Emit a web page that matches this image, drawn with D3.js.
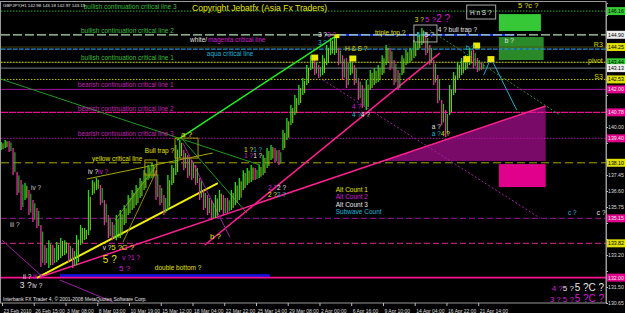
<!DOCTYPE html>
<html><head><meta charset="utf-8">
<script src="https://cdn.jsdelivr.net/npm/d3@7"></script>
<style>body{margin:0;background:#000;}svg{display:block;}text{font-family:"Liberation Sans",Arial,sans-serif;}</style>
</head><body><svg id="c" width="625" height="313"></svg>
<script>
// ---------- DATA ----------
// H1 GBPJPY price envelope, one entry per 8-bar slot (high / low)
const barHigh=[139.20,139.31,139.26,138.88,137.61,137.18,137.02,136.65,136.12,135.70,134.79,133.73,133.99,133.73,133.89,134.10,133.99,133.84,133.57,134.26,134.79,134.63,136.65,137.18,137.29,136.92,136.12,135.32,134.95,135.32,135.59,135.85,136.39,136.65,136.92,137.29,137.71,137.98,138.09,137.71,136.92,136.39,137.45,137.98,139.04,139.31,138.78,138.51,138.25,137.98,137.29,136.65,136.39,136.12,136.39,136.65,136.39,136.23,136.65,137.08,137.29,137.71,137.82,137.98,137.82,137.98,138.51,138.88,139.04,138.88,138.78,139.84,140.48,141.17,141.70,142.23,142.60,143.29,143.82,143.56,143.29,143.82,144.36,144.73,144.94,144.20,143.82,143.67,143.56,143.29,142.60,142.23,142.50,143.03,143.13,143.29,143.82,144.36,144.20,143.56,143.03,143.82,144.09,144.20,144.62,145.05,145.26,144.89,144.36,143.56,142.76,141.43,140.90,142.23,142.92,143.45,143.67,143.82,144.20,144.09,143.67,143.45];
const barLow=[138.78,138.88,138.67,137.45,136.39,135.59,136.12,135.32,134.95,134.63,132.56,132.67,132.51,132.67,132.83,133.04,133.20,132.83,132.51,132.67,133.73,133.99,134.26,136.39,136.65,135.85,134.79,134.10,133.99,133.99,134.10,134.79,135.32,135.59,135.85,136.23,136.65,137.18,137.29,136.12,135.85,135.32,135.59,136.92,137.45,138.35,137.71,137.29,137.18,136.92,136.12,135.59,135.32,135.06,135.17,135.48,135.32,135.43,135.59,135.85,136.12,136.65,136.92,137.08,137.18,137.29,137.45,137.82,138.25,138.09,137.98,138.78,139.31,140.11,140.64,141.17,141.70,142.23,143.03,142.76,142.60,142.76,143.29,143.82,143.82,143.29,142.50,142.07,142.76,142.23,141.43,141.01,140.90,141.97,142.23,142.39,142.76,143.29,143.03,142.23,141.97,142.76,143.29,143.45,143.67,144.09,144.36,143.82,143.29,142.23,141.27,140.11,139.47,140.64,141.70,142.50,142.76,143.03,143.29,143.13,142.92,143.03];
const timeTickSlots=[0,8,16,24,32,40,48,56,64,72,80,88,96,104,112,120];
const timeTickLabels=["23 Feb 2010","26 Feb 15:00","3 Mar 08:00","8 Mar 03:00","10 Mar 19:00","15 Mar 12:00","18 Mar 04:00","22 Mar 22:00","25 Mar 14:00","29 Mar 08:00","2 Apr 00:00","6 Apr 16:00","9 Apr 10:00","14 Apr 04:00","16 Apr 22:00","21 Apr 14:00"];
const priceTickValues=[130.65,131.50,132.35,133.20,134.05,134.90,135.75,136.60,137.45,138.30,139.15,140.00,140.85,141.70,142.55,143.40,144.25,145.10,145.95];
// horizontal critical lines (price levels) and their names
const levelPrices=[146.16,144.90,144.25,144.14,143.44,143.44,143.13,142.53,142.00,140.78,139.40,138.10,135.15,133.82,132.00];
const levelNames=["bullish continuation critical line 3","bullish continuation critical line 2","","aqua critical line","","bullish continuation critical line 1","","","bearish continuation critical line 1","bearish continuation critical line 2","bearish continuation critical line 3","yellow critical line","","",""];
// trend lines: [slot1, price1, slot2, price2]
const trendLines=[
 [44.1,139.31,84.6,144.89],[-0.3,142.55,65.0,137.98],[45.6,139.31,61.7,135.43],[107.8,145.15,140.6,140.64],
 [8.8,131.98,54.4,137.02],[21.4,137.24,53.1,138.62],[9.6,132.03,137.0,141.12],[51.1,133.73,110.3,143.93],
 [45.6,139.15,57.4,134.16],[80.9,142.50,135.5,135.17],[0,133.99,10.3,132.03],[14.6,131.87,28.0,130.70],
 [28.5,135.06,39.0,137.98],[30.5,133.89,39.0,137.71],[121.4,142.76,123.2,143.67],[123.2,143.67,129.7,140.90]];
// zones: [slot1, priceTop, slot2, priceBottom]
const zones=[[125.2,146.00,135.8,145.10],[125.2,144.78,136.5,143.56],[125.2,138.03,137.0,136.81],[14.6,132.19,67.5,132.03],[85.1,144.94,129.2,144.84]];
const boxes=[[103.8,145.42,109.6,144.52],[117.1,146.48,124.4,145.74],[43.6,139.41,49.4,138.35],[36.0,138.25,39.0,137.45]];
const wedge=[[96.0,138.19],[137.0,141.12],[137.0,138.19]];
const markers=[[78.8,143.69],[88.4,143.64],[117.1,143.61],[119.6,144.33],[123.2,143.61],[84.4,144.83]];
const notes=[
 ["iv ?",7.3,136.65,"G"],["iii ?",2.0,134.69,"G"],["ii ?",5.3,131.92,"W"],["iii ?",7.8,131.92,"M"],
 ["3 ?",4.5,131.45,"W",8.5],["iv ?",7.6,131.45,"W"],["iv ?",21.7,137.50,"W"],["iv ?",24.2,137.50,"M"],
 ["v ?",25.4,133.46,"W"],["5 ?",27.5,133.46,"Y",8],["C ?",30.2,133.46,"Y",8],["5 ?",25.4,132.80,"Y",10],
 ["v ?1 ?",30.3,132.93,"M"],["5 ?",29.5,132.35,"M",8],["double bottom ?",38.5,132.42,"Y"],
 ["Bull trap ?",36.0,138.62,"Y"],["a ?",45.1,139.47,"Y",8],["b ?",52.4,134.05,"Y",8],
 ["1 ?",61.0,138.67,"Y"],["1 ?",63.3,138.67,"C"],["1 ?",61.0,138.35,"M"],["1 ?",63.3,138.35,"W"],
 ["2 ?",67.0,136.65,"M"],["2 ?",69.3,136.65,"W"],["2 ?",67.0,136.28,"Y"],["2 ?",69.3,136.28,"C"],
 ["Alt Count 1",84.1,136.55,"Y"],["Alt Count 2",84.1,136.17,"M"],["Alt Count 3",84.1,135.75,"W"],["Subwave Count",84.1,135.38,"C"],
 ["4 ?",88.2,140.96,"M"],["4 ?",88.2,140.53,"C"],["4 ?",90.4,140.53,"W"],
 ["3 ?",79.6,144.78,"W"],["3 ?",81.9,144.78,"M"],["3 ?",79.6,144.36,"C"],["H & S ?",86.4,144.04,"Y"],
 ["triple top ?",94.0,144.89,"Y"],["3 ?",104.0,145.58,"Y"],["5 ?",106.6,145.58,"M",8],["2 ?",109.4,145.58,"M",10],
 ["5 ?",104.5,144.78,"C"],["5 ?",106.5,144.78,"W"],["4 ? bull trap ?",109.8,145.05,"W"],["H n S ?",117.9,145.95,"W"],
 ["5 ?c ?",130.0,146.32,"Y",7.5],["b ?",116.9,144.09,"C"],["b ?",126.7,144.46,"W"],
 ["a ?",108.3,139.89,"W"],["a ?",108.3,139.52,"C"],["4 ?",110.6,139.52,"Y"],
 ["c ?",142.6,135.32,"C"],["c ?",149.9,135.32,"W"],
 ["white/",47.4,144.54,"W"],["magenta critical line",51.9,144.54,"M"],
 ["4 ?",138.5,131.30,"M",8],["5 ?",141.3,131.30,"W",8],["5 ?C ?",144.3,131.30,"W",10],
 ["3 ?",138.0,130.72,"M",8],["5 ?",141.3,130.72,"M",8],["5 ?C ?",144.3,130.72,"M",10]];
const pivotNames=["R3","pivot","S3"];
const pivotPrices=[144.25,143.40,142.50];

// ---------- STYLE / LAYOUT ----------
const col={Y:"#e0e000",W:"#e6e6e6",M:"#d41ed4",C:"#22b4d8",G:"#c8c8c8"};
const levelStyle=[
 {c:"#2fb02f",d:"1.5,1.5",w:1,tag:"#3c3",tc:"#000",ls:20.6,dy:-2,lc:"#3cbf3c"},
 {c:"#b4e0b4",d:"9,3",w:1.2,tag:"#eee",tc:"#000",ls:19.9,dy:-2,lc:"#3cbf3c"},
 {c:"#50500a",d:null,w:0.8,tag:"#dede00",tc:"#000"},
 {c:"#1c9cb0",d:"4,2",w:1.3,tag:null,ls:51.6,dy:6.5,lc:"#22b4d8"},
 {c:"#5a5a14",d:null,w:0.8,tag:null},
 {c:"#a8c020",d:"1.5,1.5",w:1,tag:"#3c3",tc:"#000",ls:19.9,dy:-2.5,lc:"#3cbf3c"},
 {c:"#708090",d:null,w:1,tag:"#eee",tc:"#000"},
 {c:"#c8c800",d:"1.5,1.5",w:1,tag:"#dede00",tc:"#000"},
 {c:"#a010a0",d:null,w:1,tag:"#e0008c",tc:"#eee",ls:19.1,dy:-2,lc:"#c020b0"},
 {c:"#e8108c",d:"7,1",w:1.2,tag:"#e0008c",tc:"#eee",ls:19.1,dy:-1.5,lc:"#c020b0"},
 {c:"#b010a0",d:"1.5,1.5",w:1,tag:"#e0008c",tc:"#eee",ls:19.1,dy:-2,lc:"#c020b0"},
 {c:"#a8a800",d:"8,4",w:1,tag:"#dede00",tc:"#000",ls:22.7,dy:-2,lc:"#e0e000"},
 {c:"#a010a0",d:"6,3",w:1,tag:"#e0008c",tc:"#eee"},
 {c:"#d82890",d:"6,3",w:1,tag:"#dede00",tc:"#000"},
 {c:"#ff1090",d:null,w:1.6,tag:"#e0008c",tc:"#eee"}];
const trendStyle=[
 ["#22ee22",1.5],["#1f9a1f",1],["#1f9a1f",1],["#2a8a2a",1,"2,2"],
 ["#f0f000",2],["#a8a800",1],["#ff2090",1.5],["#ff2090",1.5],
 ["#a020a0",1],["#a020a0",1,"2,2"],["#a020a0",1],["#a020a0",1],
 ["#8a8a00",1],["#8a8a00",1],["#1fa8c8",1],["#1fa8c8",1]];
const zoneFill=["#36c836","#2a8a2a","#e0008c","#1010d0","#1a2ee0"];
const boxStroke=["#a8a8a8","#a8a8a8","#a0a000","#a0a000"];

const svg=d3.select("#c");
svg.append("rect").attr("width",625).attr("height",313).attr("fill","#000");
const x=d3.scaleLinear().domain([0,152.2]).range([2,606]);
const y=d3.scaleLinear().domain([130.65,146.59]).range([303,3]);
svg.append("defs").append("clipPath").attr("id","plot").append("rect").attr("x",1).attr("y",2).attr("width",605).attr("height",301);
const g=svg.append("g").attr("clip-path","url(#plot)");

g.selectAll(".zone").data(zones).join("rect")
 .attr("x",d=>x(d[0])).attr("y",d=>y(d[1])).attr("width",d=>x(d[2])-x(d[0])).attr("height",d=>y(d[3])-y(d[1]))
 .attr("fill",(d,i)=>zoneFill[i]);
g.append("path").datum(wedge).attr("d",d3.line().x(d=>x(d[0])).y(d=>y(d[1]))).attr("fill","#7a0a68");

g.selectAll(".lvl").data(levelPrices).join("line")
 .attr("x1",1).attr("x2",606).attr("y1",d=>y(d)).attr("y2",d=>y(d))
 .attr("stroke",(d,i)=>levelStyle[i].c).attr("stroke-width",(d,i)=>levelStyle[i].w)
 .attr("stroke-dasharray",(d,i)=>levelStyle[i].d);
g.append("line").attr("x1",4).attr("x2",606).attr("y1",y(levelPrices[3])).attr("y2",y(levelPrices[3]))
 .attr("stroke","#2a50c8").attr("stroke-width",1.3).attr("stroke-dasharray","2,4");

g.selectAll(".tl").data(trendLines).join("line")
 .attr("x1",d=>x(d[0])).attr("y1",d=>y(d[1])).attr("x2",d=>x(d[2])).attr("y2",d=>y(d[3]))
 .attr("stroke",(d,i)=>trendStyle[i][0]).attr("stroke-width",(d,i)=>trendStyle[i][1])
 .attr("stroke-dasharray",(d,i)=>trendStyle[i][2]||null);

const mids=barHigh.map((h,i)=>(h+barLow[i])/2);
const up=i=>i===0||mids[i]>=mids[i-1];
g.selectAll(".bar").data(barHigh).join("line")
 .attr("x1",(d,i)=>x(i)-0.8).attr("x2",(d,i)=>x(i)-0.8)
 .attr("y1",d=>y(d)).attr("y2",(d,i)=>y(barLow[i]))
 .attr("stroke",(d,i)=>up(i)?"#1ee01e":"#e0309a").attr("stroke-width",1.3);
g.selectAll(".bar2").data(barHigh).join("line")
 .attr("x1",(d,i)=>x(i)+1).attr("x2",(d,i)=>x(i)+1)
 .attr("y1",(d,i)=>y(d)+(y(barLow[i])-y(d))*0.15).attr("y2",(d,i)=>y(barLow[i])-(y(barLow[i])-y(d))*0.1)
 .attr("stroke",(d,i)=>up(i)?"#a8b428":"#24c024").attr("stroke-width",1.1);

g.selectAll(".box").data(boxes).join("rect")
 .attr("x",d=>x(d[0])).attr("y",d=>y(d[1])).attr("width",d=>x(d[2])-x(d[0])).attr("height",d=>y(d[3])-y(d[1]))
 .attr("fill","none").attr("stroke",(d,i)=>boxStroke[i]).attr("stroke-width",1);
g.selectAll(".mk").data(markers).join("rect")
 .attr("x",(d,i)=>x(d[0])-(i===5?2.5:3.5)).attr("y",(d,i)=>y(d[1])-(i===5?2:3)).attr("width",(d,i)=>i===5?5:7).attr("height",(d,i)=>i===5?4:6)
 .attr("fill","#e8e800");

svg.selectAll(".lvlab").data(levelPrices.map((p,i)=>({p,i})).filter(d=>levelNames[d.i]!==""))
 .join("text").attr("x",d=>x(levelStyle[d.i].ls)).attr("y",d=>y(d.p)+levelStyle[d.i].dy)
 .attr("fill",d=>levelStyle[d.i].lc).attr("font-size",6.5).text(d=>levelNames[d.i]);

svg.selectAll(".note").data(notes).join("text")
 .attr("x",d=>x(d[1])).attr("y",d=>y(d[2])).attr("fill",d=>col[d[3]])
 .attr("font-size",d=>d[4]||6.5).text(d=>d[0]);
svg.selectAll(".piv").data(pivotPrices).join("text")
 .attr("x",x(151.4)).attr("y",d=>y(d)-0.5).attr("text-anchor","end").attr("fill","#d8d800").attr("font-size",7)
 .text((d,i)=>pivotNames[i]);

svg.append("text").attr("x",192).attr("y",11).attr("fill","#e6e600").attr("font-size",8.6).text("Copyright Jebatfx (Asia Fx Traders)");
svg.append("text").attr("x",3).attr("y",6.5).attr("fill","#e6e6e6").attr("font-size",4.4).text("GBPJPY,H1 142.98 143.18 142.97 143.15");
svg.append("text").attr("x",3).attr("y",301).attr("fill","#e6e6e6").attr("font-size",5).text("Interbank FX Trader 4, © 2001-2008 MetaQuotes Software Corp.");

svg.append("rect").attr("x",0.5).attr("y",1.5).attr("width",605.5).attr("height",301.5).attr("fill","none").attr("stroke","#9a9a9a");

const tags=levelPrices.map((p,i)=>({p,i})).filter(d=>levelStyle[d.i].tag);
const nearTag=v=>tags.some(t=>Math.abs(y(t.p)-y(v))<8);
const ay=svg.append("g").attr("transform","translate(606,0)")
 .call(d3.axisRight(y).tickValues(priceTickValues).tickSize(2).tickPadding(0).tickFormat(d3.format(".2f")));
ay.select(".domain").attr("stroke","#9a9a9a");
ay.selectAll(".tick line").attr("stroke","#bbb");
ay.selectAll("text").attr("fill","#ddd").attr("font-size",5.2).attr("font-family","Liberation Sans,Arial,sans-serif")
 .attr("display",d=>nearTag(d)?"none":null);
const ax=svg.append("g").attr("transform","translate(0,303)")
 .call(d3.axisBottom(x).tickValues(timeTickSlots).tickSize(3).tickFormat((d,i)=>timeTickLabels[i]));
ax.select(".domain").remove();
ax.selectAll(".tick line").attr("stroke","#bbb");
ax.selectAll("text").attr("fill","#ddd").attr("font-size",5).attr("text-anchor","start").attr("dx",1).attr("font-family","Liberation Sans,Arial,sans-serif");

const tg=svg.selectAll(".tag").data(tags).join("g").attr("transform",d=>`translate(607,${y(d.p)})`);
tg.append("rect").attr("x",0).attr("y",-4).attr("width",18).attr("height",8).attr("fill",d=>levelStyle[d.i].tag);
tg.append("text").attr("x",1).attr("y",2).attr("font-size",5.2).attr("fill",d=>levelStyle[d.i].tc).text(d=>d.p.toFixed(2));
</script></body></html>
